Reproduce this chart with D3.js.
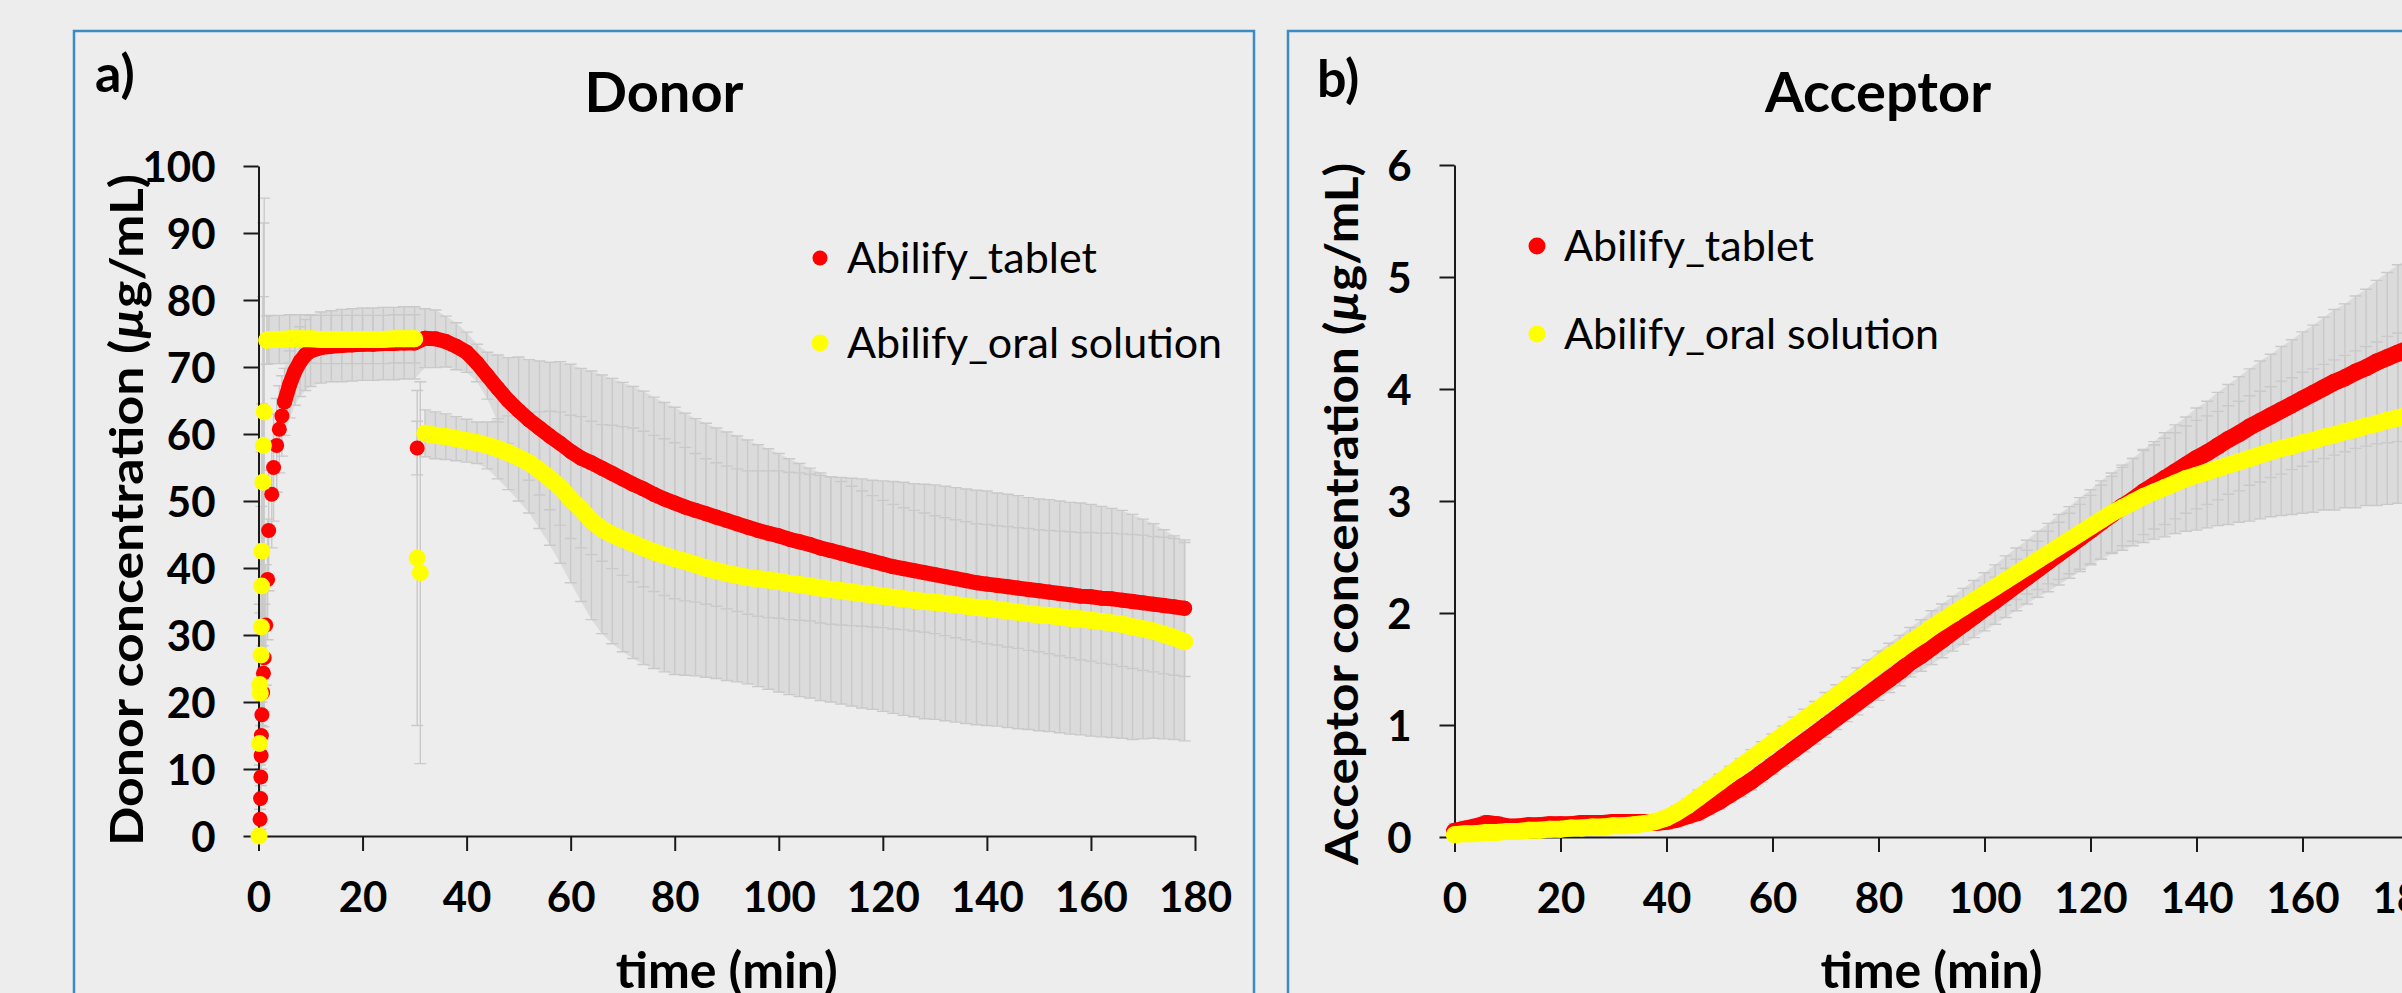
<!DOCTYPE html>
<html lang="en">
<head>
  <meta charset="UTF-8">
  <title>Donor / Acceptor concentration</title>
  <script src="https://d3js.org/d3.v7.min.js"></script>
  <style>
    * { margin: 0; padding: 0; box-sizing: border-box; }
    html, body { width: 2402px; height: 993px; overflow: hidden; background: #ededed; }
    svg { display: block; }
  </style>
</head>
<body>
<svg id="fig" width="2402" height="993"></svg>
<script>
// ---------------- data ----------------
// Donor, Abilify_tablet
const donorTabletEarlyT  = [0.15, 0.3, 0.4, 0.45, 0.5, 0.55, 0.65, 0.8, 0.95, 1.1, 1.4, 1.75, 1.95, 2.55, 2.9, 3.5, 4.0, 4.5];
const donorTabletEarlyV  = [0, 2.5, 5.6, 8.8, 12, 15, 18.1, 21.4, 24.3, 26.6, 31.5, 38.3, 45.6, 51, 55, 58.3, 60.7, 62.7];
const donorTabletEarlySD = [0.5, 1.5, 2.5, 3.5, 4.5, 5, 6, 7, 8, 8, 9, 9, 9, 8, 8, 7, 6.5, 6];
const donorTabletPreT  = [5, 6, 7, 8, 9, 10, 12, 14, 16, 18, 20, 22, 24, 26, 28, 30];
const donorTabletPreV  = [64.8, 67.4, 69.4, 70.8, 71.8, 72.4, 72.9, 73.1, 73.2, 73.3, 73.4, 73.4, 73.5, 73.5, 73.6, 73.6];
const donorTabletPreSD = [5.0, 5.0, 5.1, 5.2, 5.3, 5.3, 5.3, 5.3, 5.4, 5.4, 5.4, 5.4, 5.4, 5.4, 5.4, 5.4];
const donorTabletDropT = [30.5], donorTabletDropV = [57.9], donorTabletDropSD = [4];

// shared sample times after the 30 min change
const donorPostT = [32, 34, 36, 38, 40, 42, 44, 46, 48, 50,
  52, 54, 56, 58, 60, 62, 64, 66, 68, 70,
  72, 74, 76, 78, 80, 82, 84, 86, 88, 90,
  92, 94, 96, 98, 100, 102, 104, 106, 108, 110,
  112, 114, 116, 118, 120, 122, 124, 126, 128, 130,
  132, 134, 136, 138, 140, 142, 144, 146, 148, 150,
  152, 154, 156, 158, 160, 162, 164, 166, 168, 170,
  172, 174, 176, 178];
const donorTabletPostV = [74.3, 74.2, 73.8, 73.1, 72.2, 70.6, 68.7, 66.8, 65.0, 63.5,
  62.1, 60.9, 59.7, 58.6, 57.4, 56.4, 55.7, 54.9, 54.1, 53.3,
  52.5, 51.8, 51.0, 50.3, 49.7, 49.1, 48.6, 48.1, 47.6, 47.1,
  46.6, 46.1, 45.6, 45.2, 44.8, 44.3, 43.9, 43.5, 43.0, 42.6,
  42.2, 41.8, 41.4, 41.0, 40.6, 40.2, 39.9, 39.6, 39.3, 39.0,
  38.7, 38.4, 38.1, 37.8, 37.6, 37.4, 37.2, 37.0, 36.8, 36.6,
  36.4, 36.2, 36.0, 35.8, 35.7, 35.5, 35.4, 35.2, 35.0, 34.8,
  34.6, 34.4, 34.2, 34.0];
const donorTabletPostSD = [4.4, 4.3, 3.8, 3.5, 3.0, 2.8, 3.5, 5.0, 6.4, 8.0,
  9.0, 10.0, 11.0, 12.2, 13.0, 13.4, 13.7, 13.9, 14.2, 14.4,
  14.6, 14.6, 14.5, 14.4, 14.3, 14.0, 13.7, 13.5, 13.3, 13.2,
  13.1, 13.0, 12.8, 12.6, 12.3, 12.0, 11.7, 11.4, 11.2, 11.0,
  10.7, 10.4, 10.1, 9.8, 9.5, 9.3, 9.1, 9.0, 8.9, 8.8,
  8.8, 8.8, 8.8, 8.8, 8.9, 8.9, 9.0, 9.0, 9.1, 9.1,
  9.2, 9.3, 9.4, 9.5, 9.6, 9.7, 9.8, 9.9, 10.0, 10.1,
  10.1, 10.2, 10.2, 10.2];

// Donor, Abilify_oral solution
const donorSolEarlyT  = [0.1, 0.2, 0.25, 0.35, 0.5, 0.55, 0.6, 0.65, 0.85, 0.95, 1.1];
const donorSolEarlyV  = [0, 13.8, 22.6, 21.3, 27, 31.2, 37.3, 42.5, 52.8, 58.3, 63.3];
const donorSolEarlySD = [0.5, 8, 12, 12, 15, 18, 20, 22, 27.7, 33.2, 31.9];
const donorSolPreT  = [1.6, 2, 4, 6, 8, 10, 12, 14, 16, 18, 20, 22, 24, 26, 28, 30];
const donorSolPreV  = [74.0, 74.1, 74.1, 74.2, 74.2, 74.2, 74.1, 74.1, 74.1, 74.1, 74.1, 74.1, 74.1, 74.2, 74.2, 74.2];
const donorSolPreSD = [3.6, 3.6, 3.6, 3.6, 3.6, 3.6, 3.6, 3.6, 3.6, 3.6, 3.6, 3.6, 3.6, 3.6, 3.6, 3.6];
const donorSolDropT = [30.5, 31.1], donorSolDropV = [41.5, 39.3], donorSolDropSD = [25, 28.5];
const donorSolPostV = [60.1, 59.8, 59.6, 59.3, 59.0, 58.7, 58.3, 57.8, 57.2, 56.5,
  55.7, 54.6, 53.4, 52.0, 50.3, 48.8, 47.1, 45.8, 45.0, 44.3,
  43.7, 43.0, 42.4, 41.9, 41.4, 41.0, 40.5, 40.0, 39.6, 39.2,
  38.9, 38.6, 38.4, 38.2, 38.0, 37.7, 37.5, 37.3, 37.0, 36.8,
  36.6, 36.4, 36.2, 36.0, 35.8, 35.6, 35.4, 35.2, 35.0, 34.9,
  34.7, 34.5, 34.3, 34.1, 34.0, 33.8, 33.6, 33.4, 33.2, 33.0,
  32.9, 32.7, 32.5, 32.4, 32.2, 32.0, 31.8, 31.6, 31.2, 30.9,
  30.6, 30.1, 29.6, 29.0];
const donorSolPostSD = [3.5, 3.5, 3.4, 3.3, 3.2, 3.1, 3.5, 4.5, 5.5, 6.5,
  7.5, 8.7, 10.0, 11.3, 12.5, 13.8, 14.8, 15.6, 16.3, 16.8,
  17.2, 17.4, 17.4, 17.4, 17.3, 17.0, 16.6, 16.3, 16.1, 16.0,
  15.9, 15.9, 16.1, 16.3, 16.5, 16.6, 16.7, 16.7, 16.8, 16.8,
  16.9, 17.0, 17.1, 17.1, 17.2, 17.3, 17.4, 17.4, 17.5, 17.5,
  17.5, 17.5, 17.5, 17.5, 17.5, 17.4, 17.4, 17.4, 17.3, 17.3,
  17.3, 17.3, 17.3, 17.3, 17.3, 17.2, 17.1, 17.0, 16.8, 16.4,
  16.0, 15.6, 15.2, 14.8];

// Acceptor
const acceptorT = [0, 2, 4, 6, 8, 10, 12, 14, 16, 18,
  20, 22, 24, 26, 28, 30, 32, 34, 36, 38,
  40, 42, 44, 46, 48, 50, 52, 54, 56, 58,
  60, 62, 64, 66, 68, 70, 72, 74, 76, 78,
  80, 82, 84, 86, 88, 90, 92, 94, 96, 98,
  100, 102, 104, 106, 108, 110, 112, 114, 116, 118,
  120, 122, 124, 126, 128, 130, 132, 134, 136, 138,
  140, 142, 144, 146, 148, 150, 152, 154, 156, 158,
  160, 162, 164, 166, 168, 170, 172, 174, 176, 178,
  180];
const acceptorTabletV = [0.05, 0.07, 0.09, 0.12, 0.11, 0.09, 0.09, 0.10, 0.10, 0.11,
  0.11, 0.11, 0.12, 0.12, 0.12, 0.13, 0.13, 0.13, 0.13, 0.13,
  0.14, 0.16, 0.19, 0.22, 0.27, 0.32, 0.38, 0.44, 0.50, 0.57,
  0.64, 0.71, 0.78, 0.85, 0.92, 0.99, 1.06, 1.13, 1.20, 1.27,
  1.34, 1.41, 1.48, 1.56, 1.62, 1.69, 1.76, 1.83, 1.90, 1.97,
  2.04, 2.11, 2.18, 2.25, 2.32, 2.39, 2.46, 2.53, 2.60, 2.67,
  2.74, 2.81, 2.88, 2.95, 3.01, 3.08, 3.14, 3.20, 3.26, 3.32,
  3.38, 3.43, 3.49, 3.55, 3.60, 3.66, 3.71, 3.76, 3.81, 3.86,
  3.91, 3.96, 4.01, 4.06, 4.10, 4.15, 4.19, 4.24, 4.28, 4.32,
  4.36];
const acceptorTabletSD = [0.07, 0.07, 0.07, 0.07, 0.07, 0.07, 0.07, 0.07, 0.07, 0.07,
  0.07, 0.07, 0.07, 0.07, 0.07, 0.07, 0.07, 0.07, 0.07, 0.07,
  0.07, 0.07, 0.07, 0.07, 0.07, 0.07, 0.07, 0.08, 0.08, 0.08,
  0.08, 0.08, 0.09, 0.09, 0.09, 0.10, 0.10, 0.10, 0.11, 0.11,
  0.12, 0.12, 0.13, 0.13, 0.14, 0.15, 0.16, 0.17, 0.18, 0.19,
  0.20, 0.21, 0.22, 0.23, 0.24, 0.25, 0.27, 0.28, 0.29, 0.30,
  0.31, 0.33, 0.34, 0.35, 0.37, 0.38, 0.39, 0.41, 0.42, 0.43,
  0.45, 0.46, 0.48, 0.49, 0.51, 0.52, 0.54, 0.55, 0.57, 0.58,
  0.60, 0.61, 0.63, 0.65, 0.66, 0.68, 0.70, 0.73, 0.76, 0.79,
  0.80];
const acceptorSolV = [0.02, 0.03, 0.03, 0.04, 0.04, 0.05, 0.05, 0.06, 0.06, 0.07,
  0.07, 0.08, 0.08, 0.09, 0.09, 0.10, 0.10, 0.11, 0.12, 0.14,
  0.17, 0.22, 0.28, 0.35, 0.42, 0.49, 0.56, 0.63, 0.70, 0.77,
  0.84, 0.91, 0.98, 1.05, 1.12, 1.19, 1.26, 1.33, 1.40, 1.47,
  1.54, 1.61, 1.67, 1.74, 1.80, 1.87, 1.93, 1.99, 2.05, 2.11,
  2.17, 2.23, 2.29, 2.35, 2.41, 2.47, 2.53, 2.59, 2.65, 2.71,
  2.77, 2.83, 2.89, 2.94, 2.99, 3.04, 3.08, 3.12, 3.16, 3.20,
  3.23, 3.26, 3.29, 3.32, 3.35, 3.38, 3.41, 3.44, 3.47, 3.49,
  3.52, 3.54, 3.57, 3.59, 3.62, 3.64, 3.67, 3.69, 3.72, 3.74,
  3.77];
const acceptorSolSD = [0.06, 0.06, 0.06, 0.06, 0.06, 0.06, 0.06, 0.06, 0.06, 0.06,
  0.06, 0.06, 0.06, 0.06, 0.06, 0.06, 0.06, 0.06, 0.06, 0.06,
  0.06, 0.06, 0.06, 0.07, 0.07, 0.07, 0.07, 0.07, 0.08, 0.08,
  0.08, 0.08, 0.09, 0.09, 0.09, 0.10, 0.10, 0.10, 0.11, 0.11,
  0.12, 0.12, 0.13, 0.13, 0.14, 0.15, 0.15, 0.16, 0.17, 0.18,
  0.19, 0.20, 0.22, 0.23, 0.24, 0.26, 0.27, 0.29, 0.30, 0.32,
  0.33, 0.35, 0.36, 0.38, 0.39, 0.41, 0.42, 0.44, 0.45, 0.47,
  0.49, 0.50, 0.51, 0.53, 0.54, 0.56, 0.57, 0.58, 0.60, 0.61,
  0.63, 0.64, 0.65, 0.67, 0.68, 0.70, 0.71, 0.73, 0.75, 0.76,
  0.77];

const timeTicks = [0, 20, 40, 60, 80, 100, 120, 140, 160, 180];
const donorTicks = [0, 10, 20, 30, 40, 50, 60, 70, 80, 90, 100];
const acceptorTicks = [0, 1, 2, 3, 4, 5, 6];
const seriesNames = ["Abilify_tablet", "Abilify_oral solution"];

// ---------------- drawing ----------------
const svg = d3.select("#fig");
const FONT = "Lato, 'Open Sans', sans-serif";

function pts(t, v, sd) {
  return d3.zip(t, v, sd).map(function(d) { return {t: d[0], v: d[1], sd: d[2]}; });
}

svg.append("rect").attr("width", 2402).attr("height", 993).attr("fill", "#ededed");

// panel frames
svg.append("rect").attr("x", 74).attr("y", 31).attr("width", 1180).attr("height", 1100)
  .attr("fill", "none").attr("stroke", "#3b8cc2").attr("stroke-width", 2.5);
svg.append("rect").attr("x", 1288).attr("y", 31).attr("width", 1200).attr("height", 1100)
  .attr("fill", "none").attr("stroke", "#3b8cc2").attr("stroke-width", 2.5);

function drawPlot(p) {
  var x = d3.scaleLinear().domain([0, 180]).range(p.xRange);
  var y = d3.scaleLinear().domain(p.yDomain).range(p.yRange);

  var bandG = svg.append("g"), barG = svg.append("g"), axisG = svg.append("g"), markG = svg.append("g");

  var area = d3.area()
    .x(function(d) { return x(d.t); })
    .y0(function(d) { return y(Math.max(0, d.v - d.sd)); })
    .y1(function(d) { return y(d.v + d.sd); });
  var line = d3.line().x(function(d) { return x(d.t); }).y(function(d) { return y(d.v); });

  // error bars (band + individual bars with caps)
  p.series.forEach(function(s) {
    s.runs.forEach(function(run) {
      bandG.append("path").datum(run).attr("d", area).attr("fill", "#dbdbdb");
    });
    var all = s.runs.flat().concat(s.dots.flat());
    barG.append("g").selectAll("path").data(all).join("path")
      .attr("d", function(d) {
        var xx = x(d.t), lo = y(Math.max(0, d.v - d.sd)), hi = y(d.v + d.sd);
        return "M" + xx + "," + lo + "V" + hi + "M" + (xx - 6) + "," + lo + "h12M" + (xx - 6) + "," + hi + "h12";
      })
      .attr("fill", "none").attr("stroke", "#c9c9c9").attr("stroke-width", 1.4);
  });

  // axes
  var gx = axisG.append("g").attr("transform", "translate(0," + y(0) + ")")
    .call(d3.axisBottom(x).tickValues(timeTicks).tickFormat(d3.format("d")).tickSize(15).tickSizeOuter(0));
  var gy = axisG.append("g").attr("transform", "translate(" + x(0) + ",0)")
    .call(d3.axisLeft(y).tickValues(p.yTicks).tickFormat(d3.format("d")).tickSize(15).tickSizeOuter(0).tickPadding(28));
  [gx, gy].forEach(function(g) {
    g.select(".domain").attr("stroke", "#1a1a1a").attr("stroke-width", 2);
    g.selectAll(".tick line").attr("stroke", "#1a1a1a").attr("stroke-width", 2);
    g.selectAll(".tick text").attr("fill", "#000")
      .style("font-family", FONT).style("font-weight", "700").style("font-size", "42px");
  });
  gx.selectAll(".tick text").attr("y", 76).attr("dy", 0);
  gy.selectAll(".tick text").attr("dy", "0.36em");

  // markers
  p.series.forEach(function(s) {
    s.runs.forEach(function(run) {
      markG.append("path").datum(run).attr("d", line).attr("fill", "none")
        .attr("stroke", s.color).attr("stroke-width", 2 * s.r)
        .attr("stroke-linecap", "round").attr("stroke-linejoin", "round");
    });
    markG.append("g").selectAll("circle").data(s.runs.flat().concat(s.dots.flat())).join("circle")
      .attr("cx", function(d) { return x(d.t); })
      .attr("cy", function(d) { return y(d.v); })
      .attr("r", s.r).attr("fill", s.color);
  });

  // legend
  p.series.forEach(function(s, i) {
    svg.append("circle").attr("cx", p.legend.x).attr("cy", p.legend.ys[i]).attr("r", s.r).attr("fill", s.color);
    svg.append("text").attr("x", p.legend.x + 27).attr("y", p.legend.ys[i] + 15)
      .style("font-family", FONT).style("font-size", "43px").attr("fill", "#000")
      .text(seriesNames[i]);
  });

  // titles and labels
  svg.append("text").attr("x", p.titleX).attr("y", 112).attr("text-anchor", "middle")
    .style("font-family", FONT).style("font-weight", "700").style("font-size", "56px").text(p.title);
  svg.append("text").attr("x", p.letterX).attr("y", p.letterY)
    .style("font-family", FONT).style("font-weight", "700").style("font-size", "52px").text(p.letter);
  svg.append("text").attr("x", (p.xRange[0] + p.xRange[1]) / 2).attr("y", 988).attr("text-anchor", "middle")
    .style("font-family", FONT).style("font-weight", "700").style("font-size", "50px").text("time (min)");

  var yl = svg.append("text")
    .attr("transform", "translate(" + p.yLabel.x + "," + p.yLabel.y + ") rotate(-90)")
    .attr("text-anchor", "middle")
    .attr("textLength", p.yLabel.len).attr("lengthAdjust", "spacingAndGlyphs")
    .style("font-family", FONT).style("font-weight", "700").style("font-size", "46px");
  yl.append("tspan").text(p.yLabel.text + " (");
  yl.append("tspan").style("font-style", "italic").text("\u00b5");
  yl.append("tspan").text("g/mL)");
}

drawPlot({
  xRange: [258.5, 1195], yDomain: [0, 100], yRange: [836, 166], yTicks: donorTicks,
  title: "Donor", titleX: 664, letter: "a)", letterX: 95, letterY: 92,
  legend: {x: 820, ys: [258, 343]},
  yLabel: {x: 143, y: 510, len: 672, text: "Donor concentration"},
  series: [
    {color: "#ff0000", r: 7.5,
     runs: [pts(donorTabletPreT, donorTabletPreV, donorTabletPreSD).concat(pts(donorPostT, donorTabletPostV, donorTabletPostSD))],
     dots: [pts(donorTabletEarlyT, donorTabletEarlyV, donorTabletEarlySD), pts(donorTabletDropT, donorTabletDropV, donorTabletDropSD)]},
    {color: "#ffff00", r: 8.5,
     runs: [pts(donorSolPreT, donorSolPreV, donorSolPreSD), pts(donorPostT, donorSolPostV, donorSolPostSD)],
     dots: [pts(donorSolEarlyT, donorSolEarlyV, donorSolEarlySD), pts(donorSolDropT, donorSolDropV, donorSolDropSD)]}
  ]
});

drawPlot({
  xRange: [1454.5, 2408.5], yDomain: [0, 6], yRange: [837, 165], yTicks: acceptorTicks,
  title: "Acceptor", titleX: 1878, letter: "b)", letterX: 1317, letterY: 97,
  legend: {x: 1537, ys: [246, 334]},
  yLabel: {x: 1358, y: 514, len: 702, text: "Acceptor concentration"},
  series: [
    {color: "#ff0000", r: 8.5, runs: [pts(acceptorT, acceptorTabletV, acceptorTabletSD)], dots: []},
    {color: "#ffff00", r: 8.5, runs: [pts(acceptorT, acceptorSolV, acceptorSolSD)], dots: []}
  ]
});
</script>
</body>
</html>
